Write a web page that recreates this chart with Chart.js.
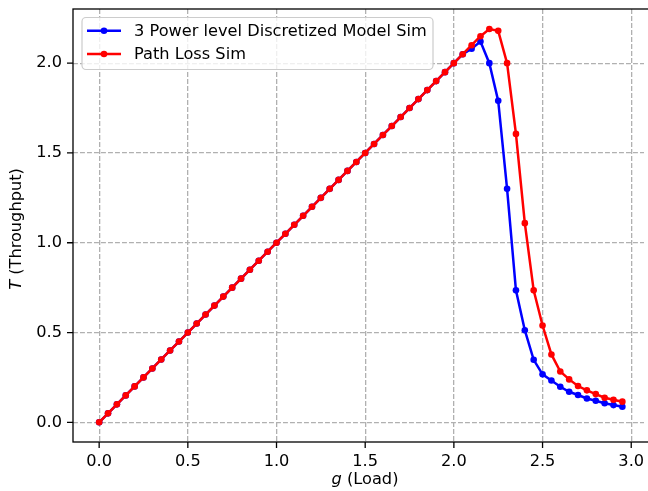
<!DOCTYPE html>
<html>
<head>
<meta charset="utf-8">
<script src="https://cdn.jsdelivr.net/npm/chart.js@4.4.0/dist/chart.umd.min.js"></script>
<style>
  html, body { margin: 0; padding: 0; background: #fff; }
  #wrap { width: 648px; height: 491px; }
</style>
</head>
<body>
<div id="wrap"><canvas id="grafico" width="648" height="491"></canvas></div>
<script>
// carga g
const cargas = [
  0.00, 0.05, 0.10, 0.15, 0.20, 0.25, 0.30, 0.35, 0.40, 0.45,
  0.50, 0.55, 0.60, 0.65, 0.70, 0.75, 0.80, 0.85, 0.90, 0.95,
  1.00, 1.05, 1.10, 1.15, 1.20, 1.25, 1.30, 1.35, 1.40, 1.45,
  1.50, 1.55, 1.60, 1.65, 1.70, 1.75, 1.80, 1.85, 1.90, 1.95,
  2.00, 2.05, 2.10, 2.15, 2.20, 2.25, 2.30, 2.35, 2.40, 2.45,
  2.50, 2.55, 2.60, 2.65, 2.70, 2.75, 2.80, 2.85, 2.90, 2.95
]

const discretizado = [
  0.00, 0.05, 0.10, 0.15, 0.20, 0.25, 0.30, 0.35, 0.40, 0.45,
  0.50, 0.55, 0.60, 0.65, 0.70, 0.75, 0.80, 0.85, 0.90, 0.95,
  1.00, 1.05, 1.10, 1.15, 1.20, 1.25, 1.30, 1.35, 1.40, 1.45,
  1.50, 1.55, 1.60, 1.65, 1.70, 1.75, 1.80, 1.85, 1.90, 1.95,
  2.00, 2.05, 2.08, 2.12, 2.00, 1.79, 1.30, 0.735, 0.513, 0.348,
  0.267, 0.233, 0.198, 0.170, 0.152, 0.133, 0.120, 0.106, 0.096, 0.087
]

const pathLoss = [
  0.00, 0.05, 0.10, 0.15, 0.20, 0.25, 0.30, 0.35, 0.40, 0.45,
  0.50, 0.55, 0.60, 0.65, 0.70, 0.75, 0.80, 0.85, 0.90, 0.95,
  1.00, 1.05, 1.10, 1.15, 1.20, 1.25, 1.30, 1.35, 1.40, 1.45,
  1.50, 1.55, 1.60, 1.65, 1.70, 1.75, 1.80, 1.85, 1.90, 1.95,
  2.00, 2.05, 2.10, 2.15, 2.19, 2.18, 2.00, 1.606, 1.109, 0.735,
  0.539, 0.378, 0.283, 0.239, 0.202, 0.178, 0.157, 0.137, 0.126, 0.115
]

const ticksX = [0.0, 0.5, 1.0, 1.5, 2.0, 2.5, 3.0]
const ticksY = [0.0, 0.5, 1.0, 1.5, 2.0]

const fonte = '"DejaVu Sans", sans-serif'
const tam = 16.2

function pares(ys){
  return cargas.map((x, i) => ({x: x, y: ys[i]}))
}

function textoMisto(ctx, partes, cx, cy){
  // partes: [[texto, italico], ...] centrado em cx
  let total = 0
  for(const p of partes){
    ctx.font = (p[1] ? 'italic ' : '') + tam + 'px ' + fonte
    total += ctx.measureText(p[0]).width
  }
  let x = cx - total / 2
  for(const p of partes){
    ctx.font = (p[1] ? 'italic ' : '') + tam + 'px ' + fonte
    ctx.fillText(p[0], x, cy)
    x += ctx.measureText(p[0]).width
  }
}

// moldura, ticks, titulos e legenda
const moldura = {
  id: 'moldura',
  afterDatasetsDraw(chart){
    const ctx = chart.ctx
    const a = chart.chartArea
    const sx = chart.scales.x
    const sy = chart.scales.y
    ctx.save()
    ctx.strokeStyle = '#000'
    ctx.lineWidth = 1.3
    ctx.strokeRect(a.left, a.top, a.right - a.left + 10, a.bottom - a.top)
    ctx.beginPath()
    for(const t of ticksX){
      const px = sx.getPixelForValue(t)
      ctx.moveTo(px, a.bottom)
      ctx.lineTo(px, a.bottom + 6)
    }
    for(const t of ticksY){
      const py = sy.getPixelForValue(t)
      ctx.moveTo(a.left, py)
      ctx.lineTo(a.left - 6, py)
    }
    ctx.stroke()
    ctx.restore()
  },
  afterDraw(chart){
    const ctx = chart.ctx
    ctx.save()
    ctx.fillStyle = '#000'
    ctx.textBaseline = 'middle'
    ctx.textAlign = 'left'
    textoMisto(ctx, [['g', true], [' (Load)', false]], 365, 480)
    ctx.translate(17, 229)
    ctx.rotate(-Math.PI / 2)
    textoMisto(ctx, [['T', true], [' (Throughput)', false]], 0, 0)
    ctx.restore()

    // legenda
    ctx.save()
    const bx = 82, by = 17.5, bw = 351, bh = 52, r = 4
    ctx.beginPath()
    ctx.roundRect(bx, by, bw, bh, r)
    ctx.fillStyle = 'rgba(255,255,255,0.8)'
    ctx.fill()
    ctx.strokeStyle = '#cccccc'
    ctx.lineWidth = 1.2
    ctx.stroke()
    chart.data.datasets.forEach((ds, i) => {
      const ly = 30.7 + i * 23.3
      ctx.strokeStyle = ds.borderColor
      ctx.lineWidth = 2.5
      ctx.beginPath()
      ctx.moveTo(87, ly)
      ctx.lineTo(121, ly)
      ctx.stroke()
      ctx.fillStyle = ds.borderColor
      ctx.beginPath()
      ctx.arc(104, ly, 3.3, 0, Math.PI * 2)
      ctx.fill()
      ctx.fillStyle = '#000'
      ctx.font = tam + 'px ' + fonte
      ctx.textAlign = 'left'
      ctx.textBaseline = 'middle'
      ctx.fillText(ds.label, 134, ly + 1)
    })
    ctx.restore()
  }
}

const grafico = new Chart(document.getElementById('grafico'), {
  type: 'line',
  data: {
    datasets: [
      {
        label: '3 Power level Discretized Model Sim',
        data: pares(discretizado),
        borderColor: '#0000ff',
        backgroundColor: '#0000ff',
        borderWidth: 2.5,
        pointRadius: 3.3,
        pointBorderWidth: 0,
        tension: 0,
        order: 2
      },
      {
        label: 'Path Loss Sim',
        data: pares(pathLoss),
        borderColor: '#ff0000',
        backgroundColor: '#ff0000',
        borderWidth: 2.5,
        pointRadius: 3.3,
        pointBorderWidth: 0,
        tension: 0,
        order: 1
      }
    ]
  },
  options: {
    responsive: false,
    animation: false,
    layout: { padding: { top: 9, right: 0, left: 0, bottom: 0 } },
    plugins: {
      legend: { display: false },
      tooltip: { enabled: false }
    },
    scales: {
      x: {
        type: 'linear',
        min: -0.1475,
        max: 3.072,
        afterBuildTicks: (s) => { s.ticks = ticksX.map(v => ({value: v})) },
        afterFit: (s) => { s.height = 49; s.paddingLeft = 0; s.paddingRight = 0 },
        grid: { color: '#b0b0b0', lineWidth: 1.3, drawTicks: false },
        border: { display: false, dash: [4.9, 2.1] },
        ticks: {
          padding: 10,
          color: '#000',
          font: { family: fonte, size: tam },
          callback: (v) => v.toFixed(1),
          maxRotation: 0
        }
      },
      y: {
        type: 'linear',
        min: -0.1096,
        max: 2.3016,
        afterBuildTicks: (s) => { s.ticks = ticksY.map(v => ({value: v})) },
        afterFit: (s) => { s.width = 73; s.paddingTop = 0; s.paddingBottom = 0 },
        grid: { color: '#b0b0b0', lineWidth: 1.3, drawTicks: false },
        border: { display: false, dash: [4.9, 2.1] },
        ticks: {
          padding: 11,
          color: '#000',
          font: { family: fonte, size: tam },
          callback: (v) => v.toFixed(1)
        }
      }
    }
  },
  plugins: [moldura]
})
</script>
</body>
</html>
